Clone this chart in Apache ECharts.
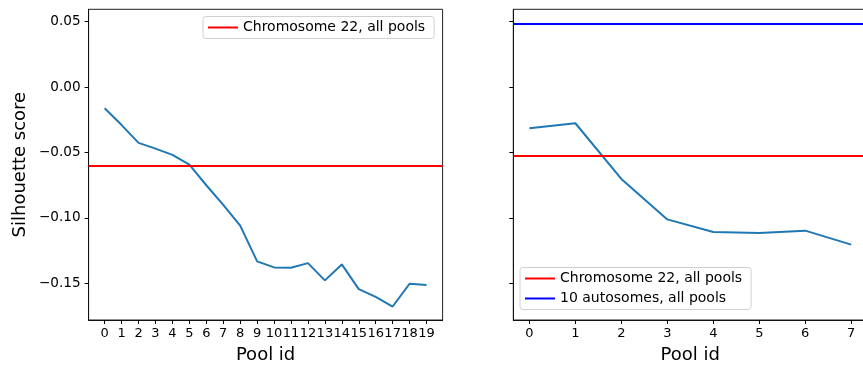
<!DOCTYPE html>
<html>
<head>
<meta charset="utf-8">
<script src="https://cdn.jsdelivr.net/npm/echarts@6/dist/echarts.min.js"></script>
<style>
  html, body { margin: 0; padding: 0; background: #fff; }
  #chart { width: 863px; height: 367px; }
</style>
</head>
<body>
<div id="chart"></div>
<script>
// data
var leftIds = [0,1,2,3,4,5,6,7,8,9,10,11,12,13,14,15,16,17,18,19];
var leftScores = [-0.0161,-0.029,-0.0426,-0.047,-0.0518,-0.0592,-0.075,-0.090,-0.1059,-0.1332,
                  -0.1378,-0.138,-0.1345,-0.1477,-0.1355,-0.1544,-0.1603,-0.1677,-0.1503,-0.1513];
var rightIds = [0,1,2,3,4,5,6,7];
var rightScores = [-0.0314,-0.0276,-0.0702,-0.1011,-0.1107,-0.1115,-0.1097,-0.1204];
var chr22Left = -0.0600;
var chr22Right = -0.0523;
var autosomesRight = 0.0482;
var yTicks = [-0.15,-0.10,-0.05,0.00,0.05];

var chart = echarts.init(document.getElementById('chart'));
var font = 'DejaVu Sans';
var CHR = 'Chromosome 22, all pools';
var AUTO = '10 autosomes, all pools';

function fmt(v) {
    var s = Math.abs(v).toFixed(2);
    return (v < 0 ? '\u2212' : '') + s;
}

function xAxisFor(idx, ids) {
    var n = ids.length - 1;
    var pad = n * 0.05;
    return {
        type: 'value', gridIndex: idx,
        min: -pad, max: n + pad,
        name: 'Pool id', nameLocation: 'middle', nameGap: 26,
        nameTextStyle: {fontSize: 18, color: '#000', fontFamily: font},
        splitLine: {show: false},
        axisLine: {show: true, onZero: false, lineStyle: {color: '#111', width: 1}},
        axisTick: {show: true, length: 4, customValues: ids, lineStyle: {color: '#000'}},
        axisLabel: {customValues: ids, fontSize: 13, color: '#000', fontFamily: font, margin: 7}
    };
}

function yAxisFor(idx, showLabels) {
    return {
        type: 'value', gridIndex: idx,
        min: -0.178, max: 0.0595,
        name: showLabels ? 'Silhouette score' : '',
        nameLocation: 'middle', nameGap: 59,
        nameTextStyle: {fontSize: 18, color: '#000', fontFamily: font},
        splitLine: {show: false},
        axisLine: {show: true, onZero: false, lineStyle: {color: '#111', width: 1}},
        axisTick: {show: true, length: 4, customValues: yTicks, lineStyle: {color: '#000'}},
        axisLabel: {show: showLabels, customValues: yTicks, formatter: fmt,
                    fontSize: 13.6, color: '#000', fontFamily: font, margin: 8}
    };
}

function refLine(name, color, idx, value) {
    return {
        name: name, type: 'line', xAxisIndex: idx, yAxisIndex: idx,
        data: [], color: color,
        markLine: {
            silent: true, symbol: 'none', precision: 4, label: {show: false},
            lineStyle: {color: color, width: 2, type: 'solid'},
            data: [{yAxis: value}]
        }
    };
}

function pairs(xs, ys) {
    return xs.map(function (x, i) { return [x, ys[i]]; });
}

var legendBase = {
    orient: 'vertical', icon: 'rect', itemWidth: 30, itemHeight: 2, itemGap: 6,
    borderColor: '#d0d0d0', borderWidth: 1, borderRadius: 3,
    backgroundColor: 'rgba(255,255,255,0.8)', padding: [4, 9, 4, 5],
    textStyle: {fontSize: 14, color: '#000', fontFamily: font}
};

option = {
    animation: false,
    backgroundColor: '#fff',
    grid: [
        {left: 88.6, top: 9.3, width: 354, height: 310.7, outerBoundsMode: 'none',
         show: true, borderColor: '#222', borderWidth: 1},
        {left: 513.3, top: 9.3, width: 354, height: 310.7, outerBoundsMode: 'none',
         show: true, borderColor: '#222', borderWidth: 1}
    ],
    legend: [
        Object.assign({}, legendBase, {left: 203, top: 16.5, data: [CHR]}),
        Object.assign({}, legendBase, {left: 520, top: 267.5, data: [CHR, AUTO]})
    ],
    xAxis: [xAxisFor(0, leftIds), xAxisFor(1, rightIds)],
    yAxis: [yAxisFor(0, true), yAxisFor(1, false)],
    series: [
        {
            name: 'left', type: 'line', xAxisIndex: 0, yAxisIndex: 0,
            data: pairs(leftIds, leftScores), showSymbol: false,
            lineStyle: {color: '#1f77b4', width: 2}
        },
        refLine(CHR, '#ff0000', 0, chr22Left),
        {
            name: 'right', type: 'line', xAxisIndex: 1, yAxisIndex: 1,
            data: pairs(rightIds, rightScores), showSymbol: false,
            lineStyle: {color: '#1f77b4', width: 2}
        },
        refLine(CHR, '#ff0000', 1, chr22Right),
        refLine(AUTO, '#0000ff', 1, autosomesRight)
    ]
};

chart.setOption(option);
</script>
</body>
</html>
